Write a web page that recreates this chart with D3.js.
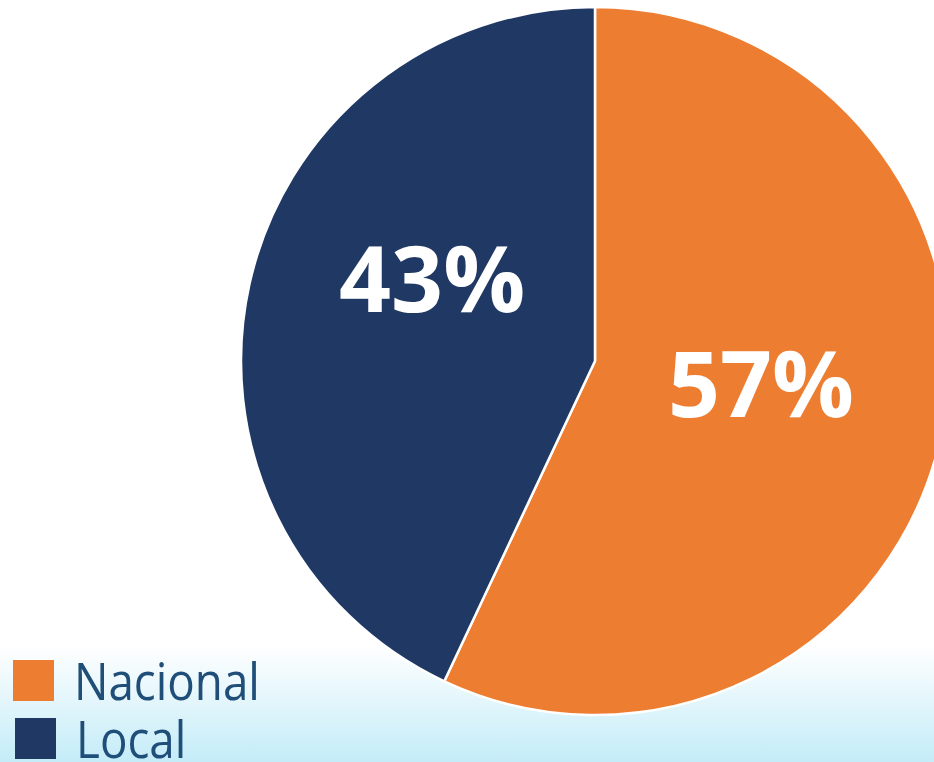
<!DOCTYPE html>
<html>
<head>
<meta charset="utf-8">
<script src="https://cdn.jsdelivr.net/npm/d3@7"></script>
<style>
  html, body { margin: 0; padding: 0; background: #fff; }
  svg { display: block; }
</style>
</head>
<body>
<script>
// Chart data
var categories = ["Nacional", "Local"];
var shares = [57, 43];
var labels = ["57%", "43%"];

// Colours and label nudges (style only)
var colors = ["#ED7D31", "#203864"];
var labelShift = [[0, -14], [3, -45]];

window.onload = drawPie();
function drawPie(){

  var width = 934,
      height = 762;

  var svg = d3.select("body")
      .append("svg")
      .attr("width", width)
      .attr("height", height);

  // Light blue band at the bottom
  var defs = svg.append("defs");
  var grad = defs.append("linearGradient")
      .attr("id", "band")
      .attr("x1", 0).attr("y1", 0)
      .attr("x2", 0).attr("y2", 1);
  grad.append("stop").attr("offset", "0%").attr("stop-color", "#ffffff");
  grad.append("stop").attr("offset", "100%").attr("stop-color", "#c4ecf8");

  svg.append("rect")
      .attr("x", 0)
      .attr("y", 645)
      .attr("width", width)
      .attr("height", height - 645)
      .attr("fill", "url(#band)");

  var cx = 595,
      cy = 361,
      radius = 354;

  var pie = d3.pie()
      .sort(null)
      .value(function(d){ return d; });

  var arc = d3.arc()
      .innerRadius(0)
      .outerRadius(radius);

  var labelArc = d3.arc()
      .innerRadius(170)
      .outerRadius(170);

  var arcs = pie(shares);

  var g = svg.append("g")
      .attr("transform", "translate(" + cx + "," + cy + ")");

  // Slices
  g.selectAll(".slice")
      .data(arcs)
      .enter()
      .append("path")
      .attr("class", "slice")
      .attr("d", arc)
      .attr("fill", function(d, i){ return colors[i]; })
      .attr("stroke", "#ffffff")
      .attr("stroke-width", 2.5)
      .attr("stroke-linejoin", "round");

  // Percentage labels
  g.selectAll(".pct")
      .data(arcs)
      .enter()
      .append("text")
      .attr("class", "pct")
      .attr("transform", function(d, i){
        var c = labelArc.centroid(d);
        return "translate(" + (c[0] + labelShift[i][0]) + "," + (c[1] + labelShift[i][1]) + ")";
      })
      .attr("text-anchor", "middle")
      .attr("dy", "0.36em")
      .attr("fill", "#ffffff")
      .style("font-family", "'Open Sans', 'DejaVu Sans', sans-serif")
      .style("font-weight", "bold")
      .style("font-size", "91px")
      .text(function(d, i){ return labels[i]; });

  // Legend
  var legend = svg.selectAll(".legend")
      .data(categories)
      .enter()
      .append("g")
      .attr("class", "legend")
      .attr("transform", function(d, i){
        return "translate(" + (13 + i * 2) + "," + (660 + i * 58) + ")";
      });

  legend.append("rect")
      .attr("width", 41)
      .attr("height", 41)
      .attr("fill", function(d, i){ return colors[i]; });

  legend.append("text")
      .attr("transform", "translate(61,40) scale(0.88,1)")
      .attr("fill", "#1F4E79")
      .style("font-family", "'Open Sans', 'DejaVu Sans', sans-serif")
      .style("font-size", "52px")
      .text(function(d){ return d; });
};
</script>
</body>
</html>
